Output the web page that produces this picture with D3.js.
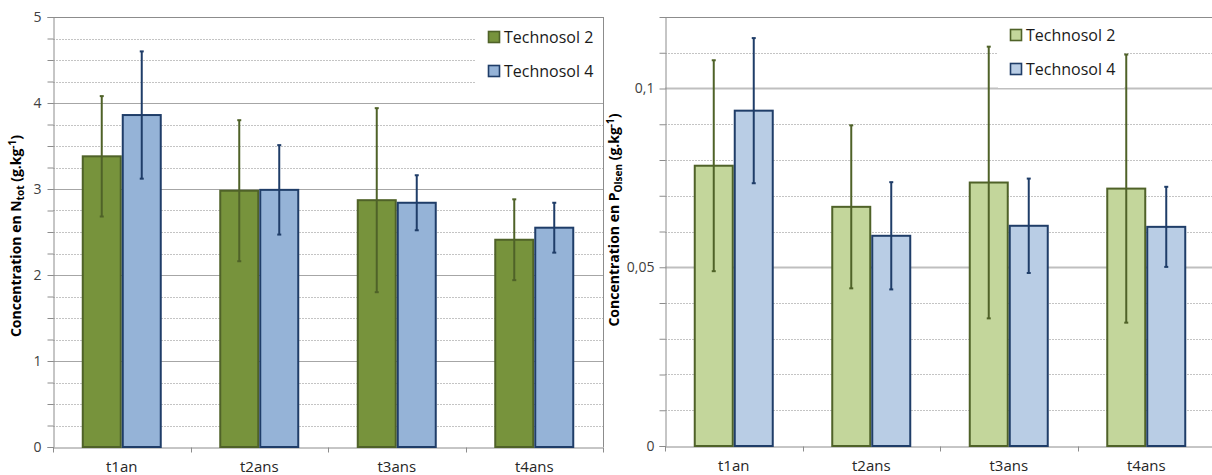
<!DOCTYPE html>
<html>
<head>
<meta charset="utf-8">
<script src="https://cdn.jsdelivr.net/npm/d3@7"></script>
<style>
  body { margin: 0; background: #fff; }
  svg { display: block; font-family: "Open Sans", sans-serif; }
</style>
</head>
<body>
<svg id="chart" width="1212" height="475"></svg>
<script>
// data
var categories = ["t1an", "t2ans", "t3ans", "t4ans"];
var seriesNames = ["Technosol 2", "Technosol 4"];

var ntot_t2 = [3.38, 2.98, 2.87, 2.41];
var ntot_t2_err = [0.70, 0.82, 1.07, 0.47];
var ntot_t4 = [3.86, 2.99, 2.84, 2.55];
var ntot_t4_err = [0.74, 0.52, 0.32, 0.29];

var polsen_t2 = [0.0784, 0.0669, 0.0737, 0.0720];
var polsen_t2_err = [0.0295, 0.0228, 0.0380, 0.0375];
var polsen_t4 = [0.0938, 0.0588, 0.0616, 0.0613];
var polsen_t4_err = [0.0203, 0.0150, 0.0132, 0.0112];

var ntot_ticks = [0, 1, 2, 3, 4, 5];
var polsen_ticks = [0, 0.05, 0.1];

var svg = d3.select("#chart");

function drawPanel(opt) {
    var g = svg.append("g");
    var x0 = d3.scaleBand().domain(categories).range([opt.left, opt.right]);
    var x1 = d3.scaleBand().domain([0, 1]).range([0, 80]);
    var y = d3.scaleLinear().domain(opt.domain).range([opt.bottom, opt.top]);

    // minor gridlines (dotted)
    g.selectAll("line.minor")
        .data(opt.minor)
        .enter().append("line")
        .attr("x1", opt.left).attr("x2", opt.right)
        .attr("y1", function(d) { return Math.round(y(d)) + 0.5; })
        .attr("y2", function(d) { return Math.round(y(d)) + 0.5; })
        .attr("stroke", "#c4c4c4")
        .attr("stroke-dasharray", "2,1");

    // major gridlines
    g.selectAll("line.major")
        .data(opt.ticks.filter(function(d) { return d > 0; }))
        .enter().append("line")
        .attr("x1", opt.left).attr("x2", opt.right)
        .attr("y1", function(d) { return Math.round(y(d)) + 0.5; })
        .attr("y2", function(d) { return Math.round(y(d)) + 0.5; })
        .attr("stroke", opt.majorColor)
        .attr("stroke-width", opt.majorWidth);

    // legend box (hides gridlines behind it)
    g.append("rect")
        .attr("x", opt.legendX).attr("y", opt.top + 1)
        .attr("width", opt.legendW).attr("height", opt.legendH)
        .attr("fill", "#fff");

    // border
    g.append("line").attr("x1", opt.left).attr("x2", opt.right + 1)
        .attr("y1", opt.top + 0.5).attr("y2", opt.top + 0.5)
        .attr("stroke", "#8c8c8c");
    if (opt.rightBorder) {
        g.append("line").attr("x1", opt.right + 0.5).attr("x2", opt.right + 0.5)
            .attr("y1", opt.top).attr("y2", opt.bottom)
            .attr("stroke", "#8c8c8c");
    }

    // y axis
    var yAxis = d3.axisLeft(y).tickValues(opt.minor.concat(opt.ticks)).tickSize(6)
        .tickFormat(function(d) { return opt.ticks.indexOf(d) >= 0 ? opt.fmt(d) : ""; });
    var ya = g.append("g")
        .attr("transform", "translate(" + (opt.left + 0.5) + ",0)")
        .call(yAxis);
    ya.select(".domain").attr("stroke", "#8c8c8c");
    ya.selectAll(".tick line").attr("stroke", "#8c8c8c");
    ya.selectAll(".tick text").attr("font-size", 14).attr("fill", "#404040")
        .attr("font-family", "Open Sans").attr("x", -opt.labelPad);

    // x axis
    var xAxis = d3.axisBottom(x0).tickSize(0).tickFormat(function(d) { return d; });
    var xa = g.append("g")
        .attr("transform", "translate(0," + (opt.bottom + 0.5) + ")")
        .call(xAxis);
    xa.select(".domain").attr("stroke", "#8c8c8c");
    xa.selectAll(".tick text").attr("font-size", 15).attr("fill", "#262626")
        .attr("font-family", "Open Sans").attr("dy", 0).attr("y", 24);
    var bounds = d3.range(categories.length + 1).map(function(i) {
        return opt.left + i * x0.step();
    });
    xa.selectAll("line.cat")
        .data(bounds)
        .enter().append("line")
        .attr("x1", function(d) { return Math.round(d) + 0.5; })
        .attr("x2", function(d) { return Math.round(d) + 0.5; })
        .attr("y1", 0).attr("y2", 5)
        .attr("stroke", "#8c8c8c");

    // bars
    var rows = [];
    categories.forEach(function(c, i) {
        opt.series.forEach(function(s, j) {
            rows.push({cat: c, s: j, v: s.values[i], e: s.err[i]});
        });
    });

    g.selectAll("rect.bar")
        .data(rows)
        .enter().append("rect")
        .attr("x", function(d) { return x0(d.cat) + (x0.bandwidth() - 80) / 2 + x1(d.s) + 1; })
        .attr("y", function(d) { return y(d.v); })
        .attr("width", x1.bandwidth() - 2)
        .attr("height", function(d) { return opt.bottom - y(d.v); })
        .attr("fill", function(d) { return opt.series[d.s].fill; })
        .attr("stroke", function(d) { return opt.series[d.s].stroke; })
        .attr("stroke-width", 2);

    // error bars
    var cx = function(d) { return x0(d.cat) + (x0.bandwidth() - 80) / 2 + x1(d.s) + x1.bandwidth() / 2; };
    var eb = g.selectAll("g.err").data(rows).enter().append("g")
        .attr("stroke", function(d) { return opt.series[d.s].errColor; })
        .attr("stroke-width", 2);
    eb.append("line")
        .attr("x1", cx).attr("x2", cx)
        .attr("y1", function(d) { return y(d.v + d.e); })
        .attr("y2", function(d) { return y(d.v - d.e); });
    [1, -1].forEach(function(sign) {
        eb.append("line")
            .attr("x1", function(d) { return cx(d) - 2; })
            .attr("x2", function(d) { return cx(d) + 2; })
            .attr("y1", function(d) { return y(d.v + sign * d.e); })
            .attr("y2", function(d) { return y(d.v + sign * d.e); });
    });

    // legend
    var lg = g.selectAll("g.leg").data(opt.series).enter().append("g")
        .attr("transform", function(d, i) {
            return "translate(" + (opt.legendX + 12) + "," + (opt.legendY + i * 34) + ")";
        });
    lg.append("rect")
        .attr("x", 0.5).attr("y", -5.5).attr("width", 11).attr("height", 11)
        .attr("fill", function(d) { return d.fill; })
        .attr("stroke", function(d) { return d.stroke; })
        .attr("stroke-width", 1.6);
    lg.append("text")
        .attr("x", 16).attr("y", 6)
        .attr("font-size", 16).attr("fill", "#1a1a1a")
        .text(function(d) { return d.name; });

    // y title
    var t = g.append("text")
        .attr("transform", "translate(" + opt.titleX + "," + opt.titleY + ") rotate(-90)")
        .attr("text-anchor", "middle")
        .attr("font-size", 14).attr("font-weight", "bold").attr("fill", "#000");
    t.append("tspan").text("Concentration en " + opt.elem);
    t.append("tspan").attr("font-size", 10).attr("baseline-shift", "-3").text(opt.sub);
    t.append("tspan").text(" (g.kg");
    t.append("tspan").attr("font-size", 10).attr("baseline-shift", "5").text("-1");
    t.append("tspan").text(")");
}

drawPanel({
    left: 53, right: 603, top: 17, bottom: 447,
    domain: [0, 5],
    ticks: ntot_ticks,
    minor: d3.range(0, 5, 0.25).filter(function(d) { return d % 1 !== 0; }),
    fmt: function(d) { return String(d); },
    labelPad: 12,
    majorColor: "#a6a6a6", majorWidth: 1,
    rightBorder: true,
    legendX: 476, legendY: 37, legendW: 127, legendH: 84,
    titleX: 21, titleY: 236,
    elem: "N", sub: "tot",
    series: [
        {name: seriesNames[0], values: ntot_t2, err: ntot_t2_err,
         fill: "#77933c", stroke: "#4f6228", errColor: "#4f6228"},
        {name: seriesNames[1], values: ntot_t4, err: ntot_t4_err,
         fill: "#95b3d7", stroke: "#1f3d68", errColor: "#1f3d68"}
    ]
});

drawPanel({
    left: 665, right: 1215, top: 17, bottom: 446,
    domain: [0, 0.12],
    ticks: polsen_ticks,
    minor: d3.range(1, 12).map(function(d) { return d / 100; })
        .filter(function(d) { return d !== 0.05 && d !== 0.1; }),
    fmt: function(d) { return d === 0 ? "0" : String(d).replace(".", ","); },
    labelPad: 11,
    majorColor: "#bfbfbf", majorWidth: 2,
    rightBorder: false,
    legendX: 998, legendY: 35, legendW: 126, legendH: 70,
    titleX: 619, titleY: 220,
    elem: "P", sub: "Olsen",
    series: [
        {name: seriesNames[0], values: polsen_t2, err: polsen_t2_err,
         fill: "#c3d69b", stroke: "#4f6228", errColor: "#4f6228"},
        {name: seriesNames[1], values: polsen_t4, err: polsen_t4_err,
         fill: "#b9cde5", stroke: "#1f3d68", errColor: "#1f3d68"}
    ]
});
</script>
</body>
</html>
